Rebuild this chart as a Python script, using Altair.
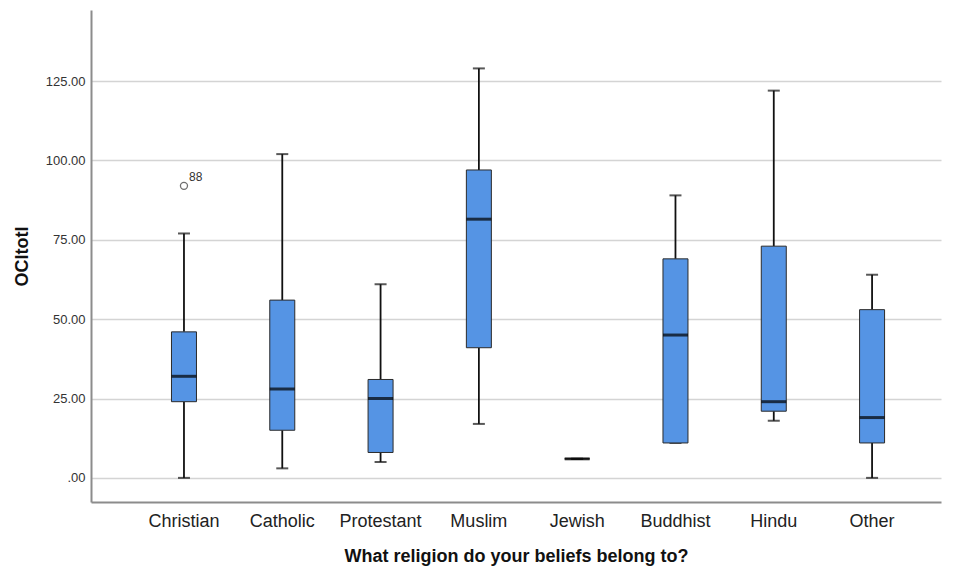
import altair as alt
import pandas as pd

categories = ["Christian", "Catholic", "Protestant", "Muslim", "Jewish", "Buddhist", "Hindu", "Other"]
lower = [0, 3, 5, 17, 6, 11, 18, 0]
q1 = [24, 15, 8, 41, 6, 11, 21, 11]
median = [32, 28, 25, 81.5, 6, 45, 24, 19]
q3 = [46, 56, 31, 97, 6, 69, 73, 53]
upper = [77, 102, 61, 129, 6, 89, 122, 64]

outlier_cat = ["Christian"]
outlier_val = [92]
outlier_lbl = ["88"]

df = pd.DataFrame({"cat": categories, "lower": lower, "q1": q1, "median": median, "q3": q3, "upper": upper})
odf = pd.DataFrame({"cat": outlier_cat, "val": outlier_val, "lbl": outlier_lbl})

FONT = "Liberation Sans"

xscale = alt.Scale(domain=categories, paddingInner=0, paddingOuter=0.3235, align=0.689)
yscale = alt.Scale(domain=[-7.6, 147.4], nice=False, zero=False)

x_axis = alt.Axis(title="What religion do your beliefs belong to?", labelAngle=0, ticks=False,
                  labelFontSize=18, labelFont=FONT, labelColor="#222222", labelPadding=10,
                  titleFontSize=18, titleFont=FONT, titleFontWeight="bold", titleColor="#111111",
                  titlePadding=17, domainColor="#8c8c8c", domainWidth=2, grid=False)
y_axis = alt.Axis(title="OCItotl", values=[0, 25, 50, 75, 100, 125], ticks=False,
                  labelExpr="datum.value == 0 ? '.00' : format(datum.value, '.2f')",
                  labelFontSize=13, labelFont=FONT, labelColor="#333333", labelPadding=6,
                  titleFontSize=18, titleFont=FONT, titleFontWeight="bold", titleColor="#111111",
                  titlePadding=14, domainColor="#8c8c8c", domainWidth=2,
                  grid=True, gridColor="#d4d4d4", gridWidth=1.5)

base = alt.Chart(df)

grid_layer = base.mark_rule(opacity=0).encode(
    x=alt.X("cat:N", scale=xscale, axis=x_axis, sort=categories),
    y=alt.Y("median:Q", scale=yscale, axis=y_axis),
)

whisk_low = base.mark_rule(color="#111111", strokeWidth=1.8).encode(
    x=alt.X("cat:N", scale=xscale, sort=categories), y=alt.Y("lower:Q", scale=yscale), y2="q1:Q")
whisk_high = base.mark_rule(color="#111111", strokeWidth=1.8).encode(
    x=alt.X("cat:N", scale=xscale, sort=categories), y=alt.Y("q3:Q", scale=yscale), y2="upper:Q")
cap_low = base.mark_tick(color="#111111", size=12, thickness=2, orient="horizontal").encode(
    x=alt.X("cat:N", scale=xscale, sort=categories), y=alt.Y("lower:Q", scale=yscale))
cap_high = base.mark_tick(color="#111111", size=12, thickness=2, orient="horizontal").encode(
    x=alt.X("cat:N", scale=xscale, sort=categories), y=alt.Y("upper:Q", scale=yscale))
box = base.mark_bar(size=25, fill="#5594e4", stroke="#2b2b2b", strokeWidth=1).encode(
    x=alt.X("cat:N", scale=xscale, sort=categories), y=alt.Y("q1:Q", scale=yscale), y2="q3:Q")
med = base.mark_tick(color="#000000", size=25, thickness=3, orient="horizontal").encode(
    x=alt.X("cat:N", scale=xscale, sort=categories), y=alt.Y("median:Q", scale=yscale))

opts = alt.Chart(odf)
out_pt = opts.mark_point(shape="circle", size=50, filled=False, color="#333333", strokeWidth=1.3).encode(
    x=alt.X("cat:N", scale=xscale, sort=categories), y=alt.Y("val:Q", scale=yscale))
out_lbl = opts.mark_text(align="left", baseline="bottom", dx=5, dy=-2, fontSize=12, font=FONT, color="#333333").encode(
    x=alt.X("cat:N", scale=xscale, sort=categories), y=alt.Y("val:Q", scale=yscale), text="lbl:N")

chart = alt.layer(grid_layer, whisk_low, whisk_high, cap_low, cap_high, box, med, out_pt, out_lbl).properties(
    width=850, height=492,
    background="white",
    autosize=alt.AutoSizeParams(type="none"),
    padding={"left": 83, "top": 2, "right": 2, "bottom": 64},
).configure_view(stroke="transparent", strokeWidth=0)

chart.save("out.html", embed_options={"renderer": "svg", "actions": False})
